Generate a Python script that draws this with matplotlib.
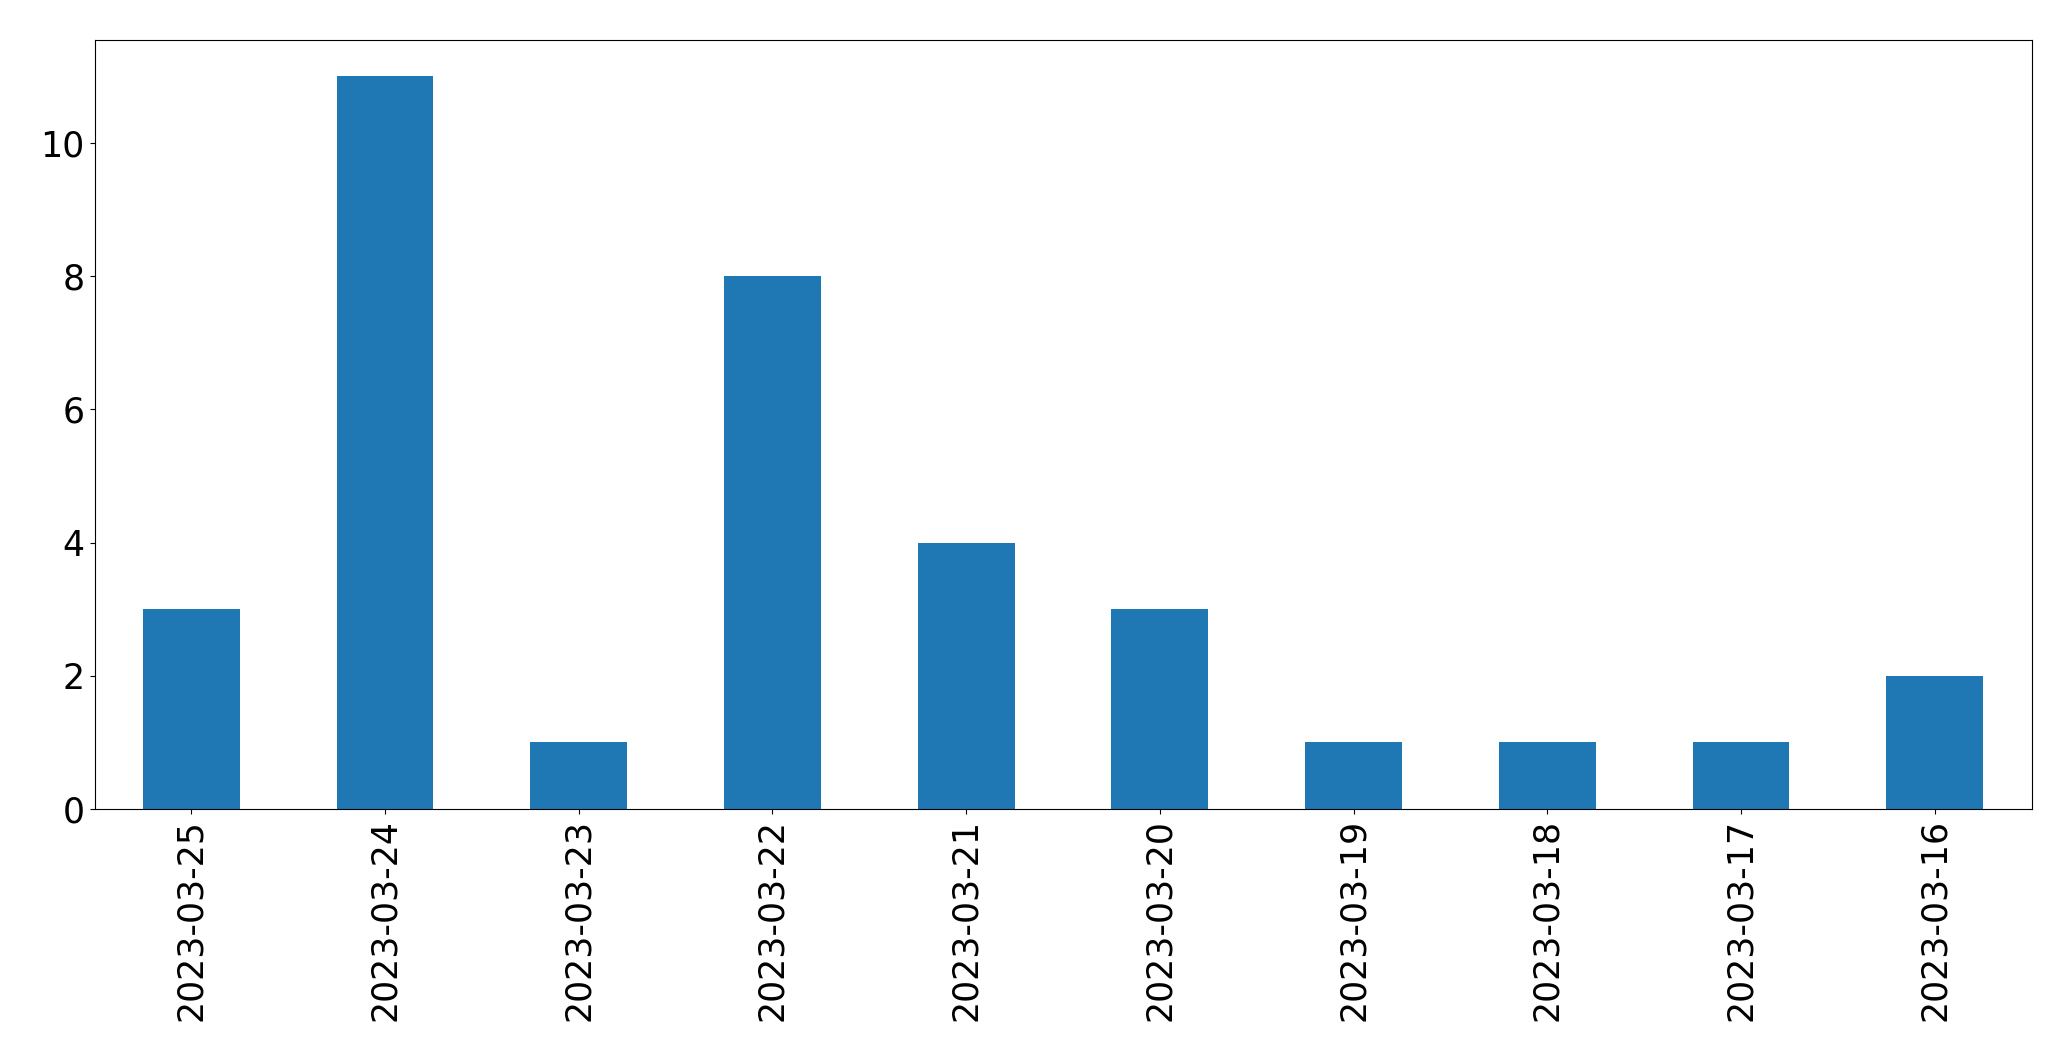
import matplotlib
matplotlib.use("Agg")
import matplotlib.pyplot as plt
import pandas as pd

dates = ["2023-03-25", "2023-03-24", "2023-03-23", "2023-03-22", "2023-03-21",
         "2023-03-20", "2023-03-19", "2023-03-18", "2023-03-17", "2023-03-16"]
counts = [3, 11, 1, 8, 4, 3, 1, 1, 1, 2]

s = pd.Series(counts, index=dates)

fig, ax = plt.subplots(figsize=(20.71, 10.61), dpi=100)
s.plot(kind="bar", ax=ax, color="#1f77b4", fontsize=25)
ax.tick_params(axis="x", labelrotation=90)
fig.subplots_adjust(left=94.5 / 2071, right=2031.5 / 2071,
                    top=1 - 39.5 / 1061, bottom=1 - 809 / 1061)
fig.savefig("out.png", dpi=100)
